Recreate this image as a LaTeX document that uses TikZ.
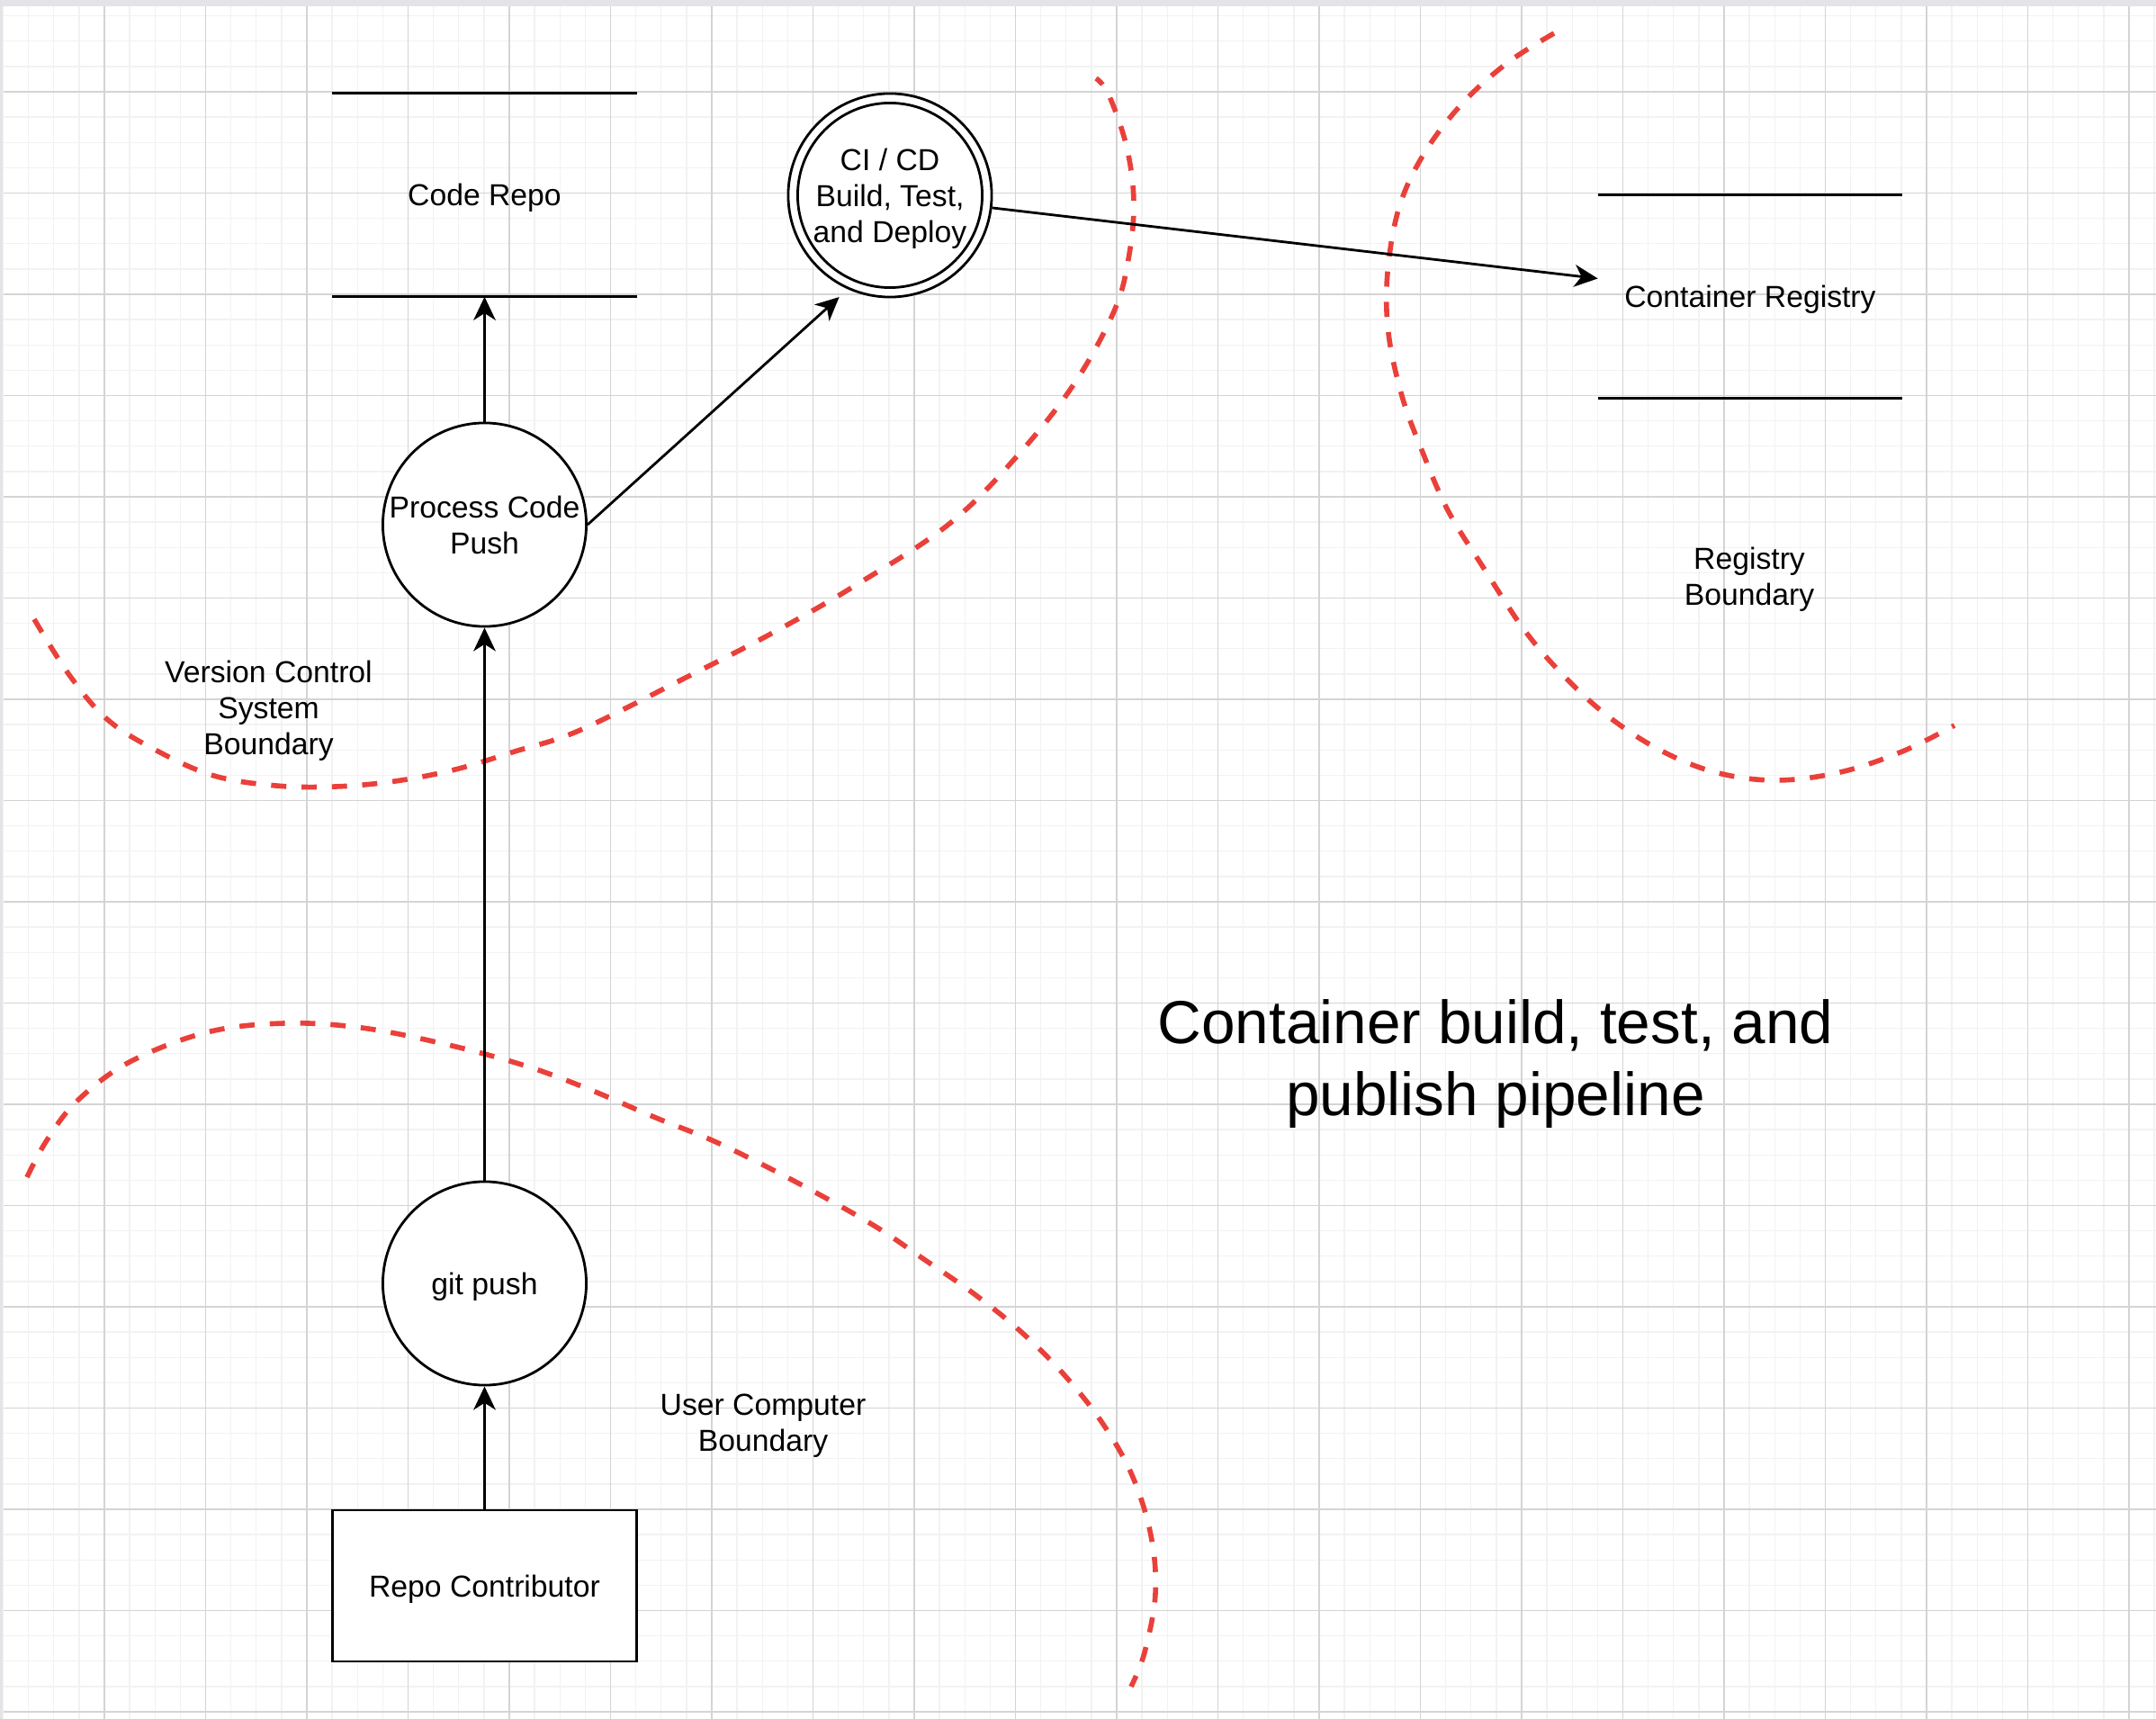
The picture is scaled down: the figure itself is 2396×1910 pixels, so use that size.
\documentclass[tikz,border=0pt]{standalone}
\usepackage{fontspec}
\setmainfont{Liberation Sans}
\usetikzlibrary{arrows.meta}
\definecolor{bnd}{RGB}{234,64,58}
\definecolor{gminor}{RGB}{242,242,242}
\definecolor{gmajor}{RGB}{212,212,212}
\definecolor{band}{RGB}{228,228,232}
\begin{document}
\begin{tikzpicture}[x=0.01cm,y=-0.01cm,
  lbl/.style={font=\fontsize{9.59}{11.4}\selectfont, align=center, inner sep=0pt, text depth=0pt},
  proc/.style={draw, circle, line width=0.8pt, minimum size=2.26cm, inner sep=0pt, fill=white, lbl},
  store/.style={minimum width=3.37cm, minimum height=2.25cm, inner sep=0pt, lbl},
  boxnode/.style={draw, rectangle, line width=0.8pt, minimum width=3.37cm, minimum height=1.68cm, fill=white, inner sep=0pt, lbl},
  arr/.style={line width=0.8pt, -{Stealth[length=7.4pt,width=7pt,inset=2.2pt]}},
  bound/.style={draw=bnd, line width=1.6pt, dash pattern=on 4.8pt off 4.8pt},
  minorline/.style={draw=gminor, line width=0.4pt},
  majorline/.style={draw=gmajor, line width=0.4pt},
  storeline/.style={line width=0.8pt},
]
\useasboundingbox (0,0) rectangle (2396,1910);
% background and grid
\fill[band] (0,0) rectangle (2396,1910);
\fill[white] (4,7) rectangle (2396,1910);
\foreach \i in {0,...,85} \draw[minorline] ({3.5+28.125*\i},7) -- ({3.5+28.125*\i},1910);
\foreach \j in {0,...,67} \draw[minorline] (4,{17.6+28.125*\j}) -- (2396,{17.6+28.125*\j});
\foreach \i in {1,...,21} \draw[majorline] ({3.5+112.5*\i},7) -- ({3.5+112.5*\i},1910);
\foreach \j in {0,...,16} \draw[majorline] (4,{102+112.5*\j}) -- (2396,{102+112.5*\j});

% boundaries
\draw[bound] plot[smooth, tension=0.6] coordinates {(38,688) (77,750) (120,800) (176,835) (238,862) (307,873) (373,874) (439,868) (506,855) (572,835) (643,812) (756,756) (859,703) (953,649) (1055,582) (1131,506) (1194,426) (1238,346) (1254,288) (1260,225) (1252,163) (1232,105) (1218,87)};
\draw[bound] plot[smooth, tension=0.6] coordinates {(1727,37) (1675,70) (1625,115) (1583,170) (1555,230) (1542,303) (1543,370) (1558,440) (1580,500) (1609,567) (1650,633) (1694,700) (1737,750) (1786,795) (1844,833) (1906,858) (1973,867) (2045,858) (2114,835) (2172,806)};
\draw[bound] plot[smooth, tension=0.6] coordinates {(30,1308) (52,1267) (86,1223) (144,1180) (230,1147) (316,1137) (402,1142) (494,1160) (580,1183) (649,1208) (729,1242) (798,1270) (884,1313) (970,1361) (1028,1400) (1083,1438) (1135,1480) (1183,1528) (1225,1581) (1258,1639) (1279,1706) (1284,1771) (1272,1836) (1257,1874)};

% data stores
\node[store] (repo) at (538.5,216.5) {Code Repo};
\draw[storeline] (repo.north west) -- (repo.north east) (repo.south west) -- (repo.south east);
\node[store] (reg) at (1945,329.5) {Container Registry};
\draw[storeline] (reg.north west) -- (reg.north east) (reg.south west) -- (reg.south east);

% processes
\node[proc] (cicd) at (989,217) {CI / CD\\Build, Test,\\and Deploy};
\draw[line width=0.8pt] (cicd.center) circle[radius=1.025cm];
\node[proc] (push) at (538.5,583) {Process Code\\Push};
\node[proc] (git) at (538.5,1426) {git push};
\node[boxnode] (contrib) at (538.5,1762) {Repo Contributor};

% labels
\node[lbl] (vcsl) at (298.5,786) {Version Control\\System\\Boundary};
\node[lbl] (regl) at (1944,640) {Registry\\Boundary};
\node[lbl] (userl) at (848,1581) {User Computer\\Boundary};
\node[font=\fontsize{19.2}{22.8}\selectfont, align=center, inner sep=0pt, text depth=0pt] (title) at (1662,1175) {Container build, test, and\\publish pipeline};

% flows
\draw[arr] (contrib.north) -- (git.south);
\draw[arr] (git.north) -- (push.south);
\draw[arr] (push.north) -- (repo.south);
\draw[arr] (push.east) -- ([shift={(-116.5:1.263cm)}]cicd.center);
\draw[arr] (cicd.-7) -- ([yshift=0.2cm]reg.west);
\end{tikzpicture}
\end{document}
